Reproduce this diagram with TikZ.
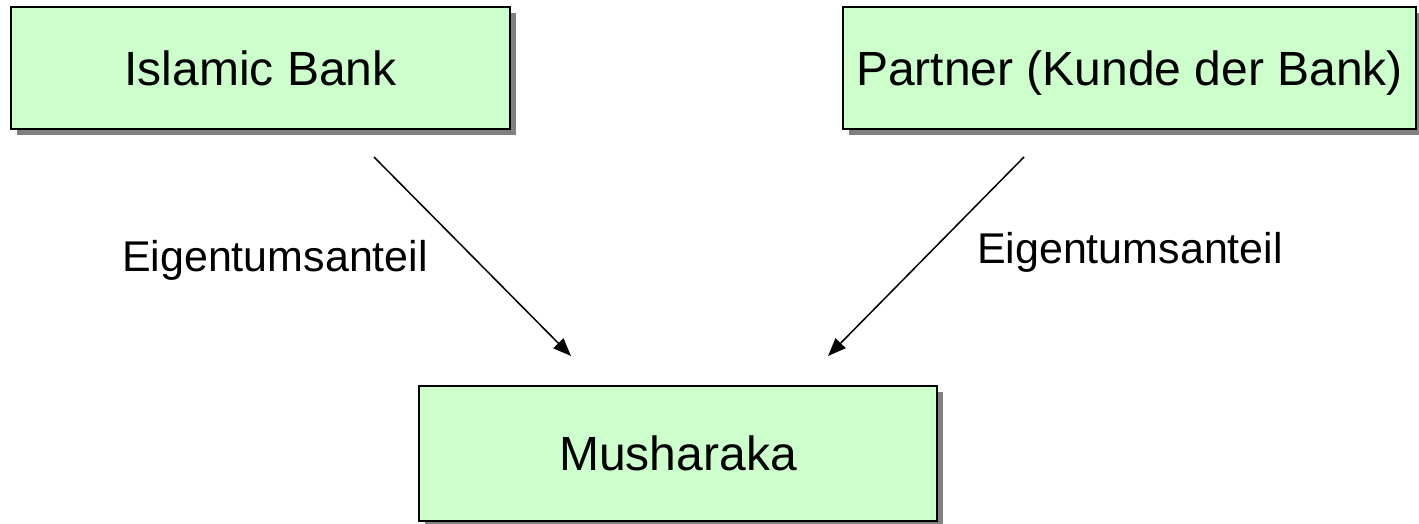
\documentclass[tikz,border=0pt]{standalone}
\usepackage{fontspec}
\setmainfont{Liberation Sans}
\usetikzlibrary{arrows.meta,shadows}
\definecolor{boxfill}{HTML}{CCFFCC}
\definecolor{shadowgray}{HTML}{808080}
\tikzset{
  entity/.style={draw=black, line width=1.1pt, fill=boxfill, rectangle,
    inner sep=0pt, text height=17.4pt, text depth=0pt,
    font=\fontsize{24}{28}\selectfont,
    drop shadow={shadow xshift=3.2pt, shadow yshift=-3.2pt, fill=shadowgray, opacity=1}},
  flow/.style={line width=0.75pt, -{Triangle[length=9pt,width=7pt]}},
  share/.style={font=\fontsize{21.5}{26}\selectfont}
}
\begin{document}
\begin{tikzpicture}[x=0.5pt, y=-0.5pt]
  \useasboundingbox (0,0) rectangle (1419,524);
  % participants
  \node[entity, minimum width=249.5pt, minimum height=61pt] (bank) at (260.5,68) {Islamic Bank};
  \node[entity, minimum width=286.5pt, minimum height=61pt] (partner) at (1129.5,68) {Partner (Kunde der Bank)};
  \node[entity, minimum width=259pt, minimum height=67.5pt] (mush) at (678,453.5) {Musharaka};
  % contributions into the partnership
  \coordinate (bankout) at (374,157);
  \coordinate (partnerout) at (1024,157);
  \coordinate (mushinL) at (571,356);
  \coordinate (mushinR) at (828,356);
  \draw[flow] (bankout) -- (mushinL);
  \draw[flow] (partnerout) -- (mushinR);
  \node[share] (lblL) at (275,260) {Eigentumsanteil};
  \node[share] (lblR) at (1130,252) {Eigentumsanteil};
\end{tikzpicture}
\end{document}
